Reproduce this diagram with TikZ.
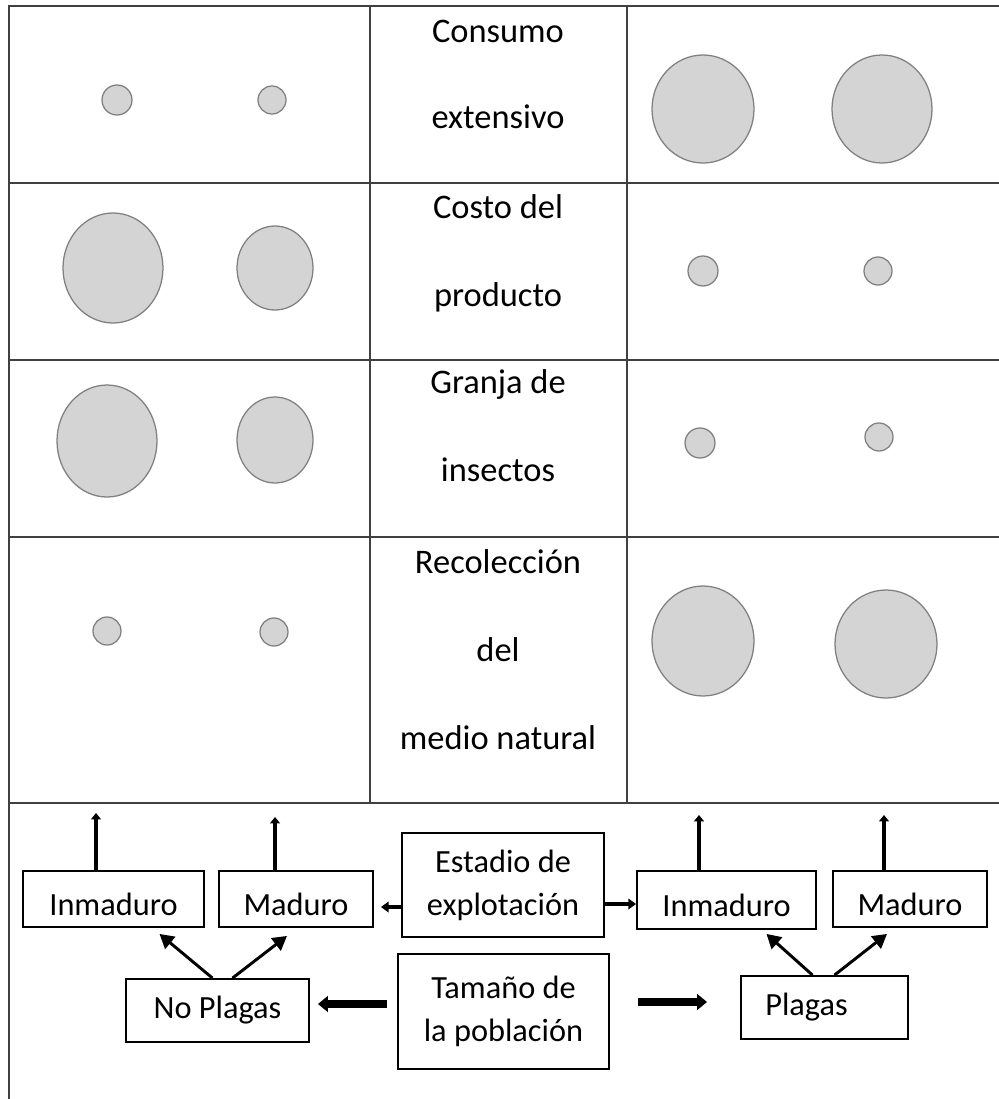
\documentclass[tikz,border=0pt]{standalone}
\usepackage{fontspec}
\setmainfont{Carlito}
\usetikzlibrary{arrows.meta,calc}
\tikzset{
	grid/.style={line width=1.4pt, draw=black!75},
	spot/.style={draw=black!50, line width=0.9pt, fill=black!17},
	cell/.style={anchor=base, inner sep=0pt, font=\fontsize{24.5}{29}\selectfont},
	box/.style={draw, line width=1.3pt, align=center, inner sep=0pt, font=\fontsize{23}{30.6}\selectfont},
	tag/.style={box, text height=23pt, text depth=0pt},
	up/.style={line width=2.8pt, -{Triangle[length=4.5pt,width=7pt]}},
	side/.style={line width=3.2pt, -{Triangle[length=5.5pt,width=7.5pt]}},
	big/.style={line width=5.6pt, -{Triangle[length=7pt,width=11pt]}},
	diag/.style={line width=2.1pt, -{Triangle[length=10pt,width=11pt]}}
}

\begin{document}
\begin{tikzpicture}[x=0.025cm, y=-0.025cm]
		\useasboundingbox (0,0) rectangle (999,1099);
		%%%%% TABLE %%%%%
		\draw[grid] (999,6) -- (9,6) -- (9,1099);
		\draw[grid] (9,183) -- (999,183);
		\draw[grid] (9,360) -- (999,360);
		\draw[grid] (9,537) -- (999,537);
		\draw[grid] (9,803) -- (999,803);
		\draw[grid] (370,6) -- (370,803);
		\draw[grid] (627,6) -- (627,803);
		
		% middle column
		\node[cell] (cons1) at (498,42) {Consumo};
		\node[cell] (cons2) at (498,128) {extensivo};
		\node[cell] (cost1) at (498,218) {Costo del};
		\node[cell] (cost2) at (498,306) {producto};
		\node[cell] (gran1) at (498,393) {Granja de};
		\node[cell] (gran2) at (498,481) {insectos};
		\node[cell] (reco1) at (498,573) {Recolección};
		\node[cell] (reco2) at (498,661) {del};
		\node[cell] (reco3) at (498,749) {medio natural};
		
		% row 1
		\draw[spot] (117,100) circle [radius=15];
		\draw[spot] (272,100) circle [radius=14];
		\draw[spot] (703,109) ellipse [x radius=51, y radius=54];
		\draw[spot] (882,109) ellipse [x radius=50, y radius=54];
		% row 2
		\draw[spot] (113,268) ellipse [x radius=50, y radius=55];
		\draw[spot] (275,268) ellipse [x radius=38, y radius=42];
		\draw[spot] (703,271) circle [radius=15];
		\draw[spot] (878,271) circle [radius=14];
		% row 3
		\draw[spot] (107,441) ellipse [x radius=50, y radius=56];
		\draw[spot] (275,440) ellipse [x radius=38, y radius=43];
		\draw[spot] (700,443) circle [radius=15];
		\draw[spot] (879,437) circle [radius=14];
		% row 4
		\draw[spot] (107,631) circle [radius=14];
		\draw[spot] (274,632) circle [radius=14];
		\draw[spot] (703,641) ellipse [x radius=51, y radius=55];
		\draw[spot] (886,644) ellipse [x radius=51, y radius=54];
		
		%%%%% BOXES %%%%%
		\node[tag, minimum width=4.525cm, minimum height=1.4cm] (inmL) at (113.5,899) {Inmaduro};
		\node[tag, minimum width=3.85cm, minimum height=1.4cm] (madL) at (296,899) {Maduro};
		\node[box, minimum width=5.05cm, minimum height=2.6cm] (est) at (503,885) {Estadio de\\explotación};
		\node[box, minimum width=5.275cm, minimum height=2.875cm] (tam) at (503.5,1011.5) {Tamaño de\\la población};
		\node[box, minimum width=4.575cm, minimum height=1.575cm] (np) at (217.5,1010.5) {No Plagas};
		\node[tag, minimum width=4.475cm, minimum height=1.45cm] (inmR) at (726.5,900) {Inmaduro};
		\node[tag, minimum width=3.85cm, minimum height=1.4cm] (madR) at (910,899) {Maduro};
		\node[box, minimum width=4.175cm, minimum height=1.575cm] (pl) at (824.5,1007.5) {Plagas\hspace*{0.9cm}};
		
		\coordinate (upA) at (96,813);
		\coordinate (upB) at (275,817);
		\coordinate (upC) at (699,815);
		\coordinate (upD) at (884,815);
		\draw[up] (inmL.north -| upA) -- (upA);
		\draw[up] (madL.north -| upB) -- (upB);
		\draw[up] (inmR.north -| upC) -- (upC);
		\draw[up] (madR.north -| upD) -- (upD);
		
		\draw[side, shorten >=0.175cm] (est.west |- 0,907) -- (madL.east |- 0,907);
		\draw[side] (est.east |- 0,904) -- (inmR.west |- 0,904);
		\draw[big, shorten <=0.25cm, shorten >=0.2cm] (tam.west |- 0,1004) -- (np.east |- 0,1004);
		\draw[big, shorten <=0.7cm, shorten >=0.825cm] (tam.east |- 0,1002) -- (pl.west |- 0,1002);
		
		\draw[diag] ($(np.north)+(-5,0)$) -- ($(inmL.south)+(46,6)$);
		\draw[diag] ($(np.north)+(15,0)$) -- ($(madL.south)+(-9,8)$);
		\draw[diag] ($(pl.north)+(-12,0)$) -- ($(inmR.south)+(40,4)$);
		\draw[diag] ($(pl.north)+(10,0)$) -- ($(madR.south)+(-23,6)$);
\end{tikzpicture}
\end{document}
